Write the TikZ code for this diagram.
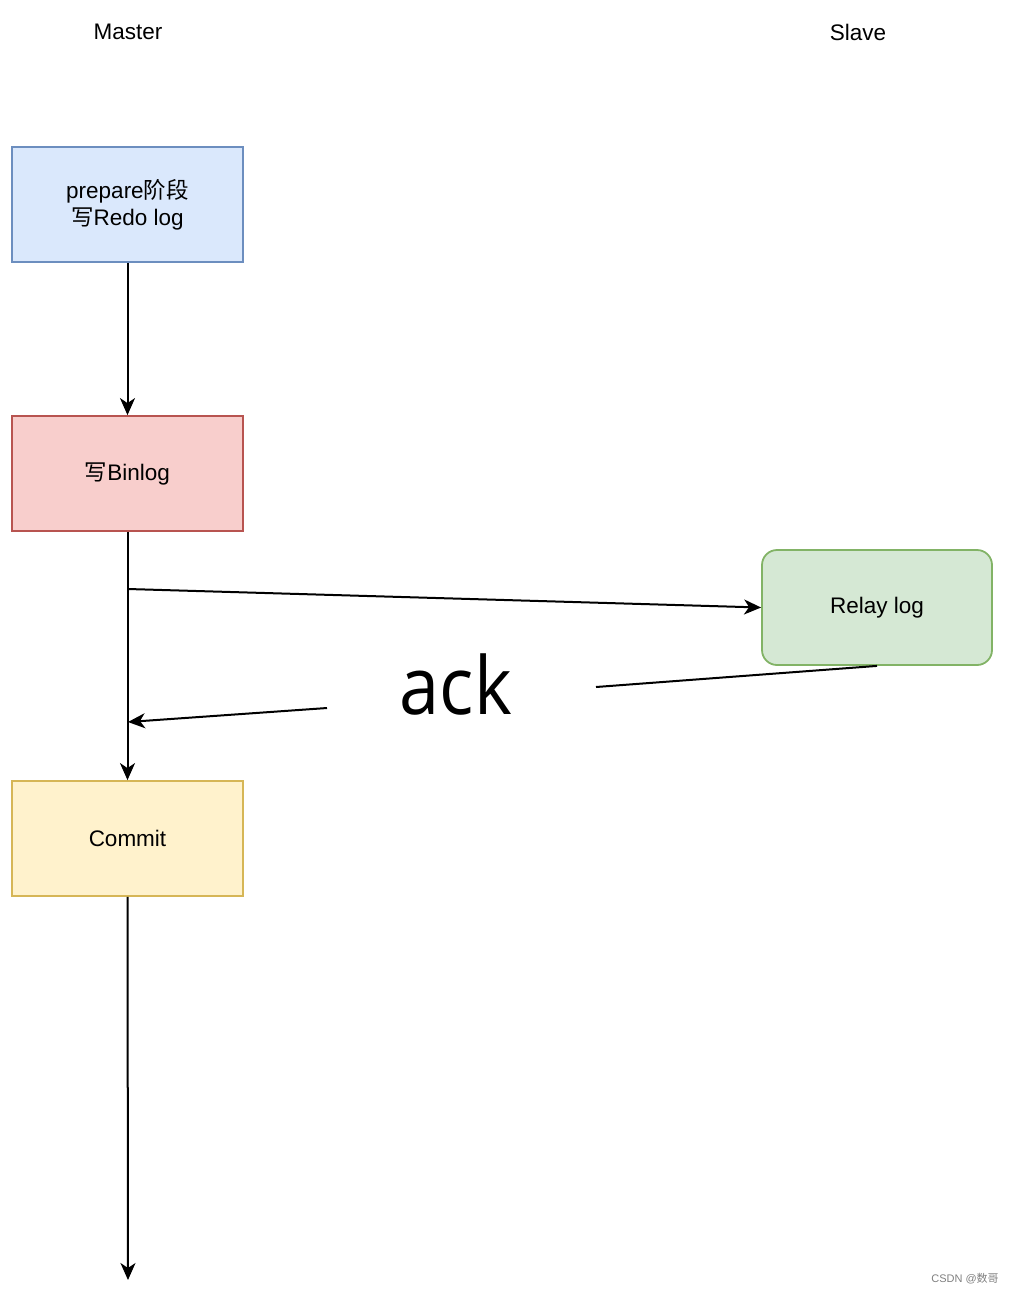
\documentclass[tikz,border=0pt]{standalone}
\usepackage{fontspec}
\setmainfont{Liberation Sans}
\newfontfamily\cjk{Noto Sans CJK SC}
\newfontfamily\ackfont{Open Sans}
\usetikzlibrary{arrows.meta}
\definecolor{bluefill}{HTML}{DAE8FC}\definecolor{bluedraw}{HTML}{6C8EBF}
\definecolor{redfill}{HTML}{F8CECC}\definecolor{reddraw}{HTML}{B85450}
\definecolor{yelfill}{HTML}{FFF2CC}\definecolor{yeldraw}{HTML}{D6B656}
\definecolor{grnfill}{HTML}{D5E8D4}\definecolor{grndraw}{HTML}{82B366}
\begin{document}
\begin{tikzpicture}[x=1pt,y=-1pt,
  box/.style={draw, line width=1.8pt, minimum width=231pt, minimum height=115pt, inner sep=0pt, align=center, font=\fontsize{22.5}{27}\selectfont},
  conn/.style={line width=2pt, -{Stealth[length=17pt,width=15pt,inset=5pt]}},
  lbl/.style={font=\fontsize{22.5}{27}\selectfont}]
\useasboundingbox (0,0) rectangle (1014,1294);
\node[lbl] (master) at (128,32) {Master};
\node[lbl] (slave) at (858,32) {Slave};
\node[box, fill=bluefill, draw=bluedraw] (prep) at (127.5,204.5) {prepare{\cjk 阶段}\\{\cjk 写}Redo log};
\node[box, fill=redfill, draw=reddraw] (bin) at (127.5,473.5) {{\cjk 写}Binlog};
\node[box, fill=yelfill, draw=yeldraw] (commit) at (127.5,838.5) {Commit};
\node[box, fill=grnfill, draw=grndraw, rounded corners=15pt, minimum width=230pt] (relay) at (877,607.5) {Relay log};
\node[inner sep=0pt, anchor=base] (ack) at (456,714) {\scalebox{0.9}[1]{\ackfont\fontsize{80}{90}\selectfont ack}};
\coordinate (fork) at (128,589);
\coordinate (ackin) at (128,722);
\coordinate (ackl) at (327,708);
\coordinate (ackr) at (596,687);
\coordinate (endpt) at (128,1280);
\draw[conn] (prep.south) -- (bin.north);
\draw[conn] (bin.south) -- (commit.north);
\draw[conn] (fork) -- (relay.west);
\draw[line width=2pt] (relay.south) -- (ackr);
\draw[conn] (ackl) -- (ackin);
\draw[conn] (commit.south) -- (endpt);
\node[text=gray, font=\fontsize{11}{13}\selectfont] (wm) at (965,1279) {CSDN @{\cjk 数哥}};
\end{tikzpicture}
\end{document}
